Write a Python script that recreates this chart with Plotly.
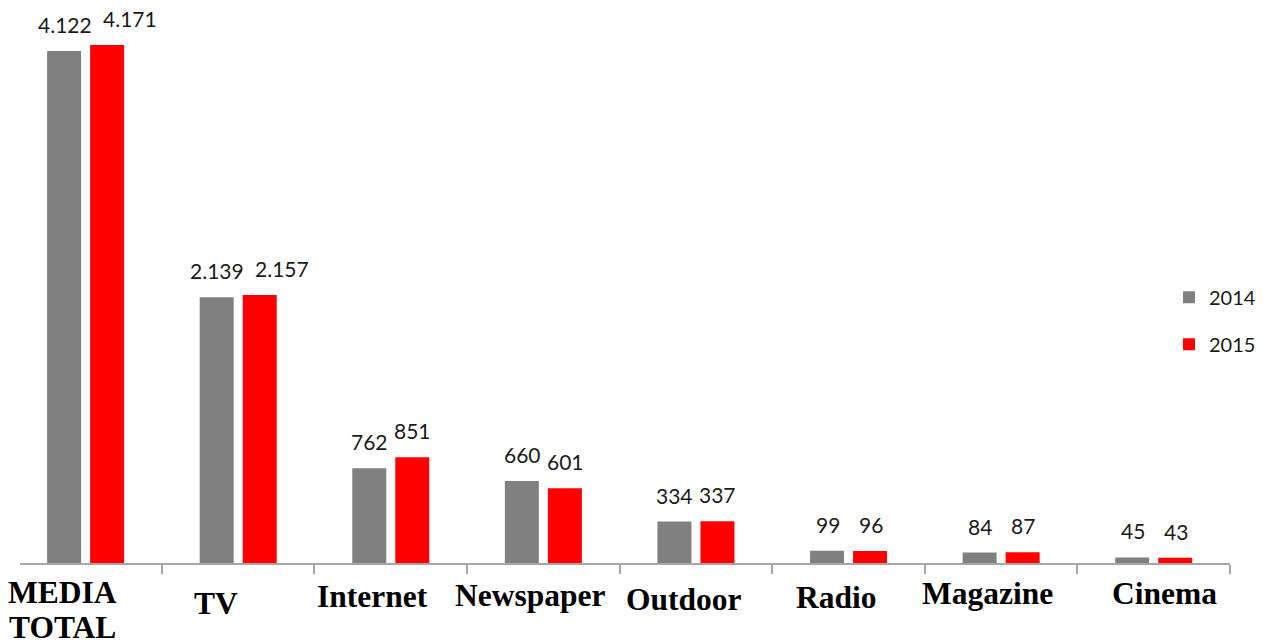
import plotly.graph_objects as go

categories = ["MEDIA<br>TOTAL", "TV", "Internet", "Newspaper", "Outdoor", "Radio", "Magazine", "Cinema"]
series_names = ["2014", "2015"]
values_2014 = [4122, 2139, 762, 660, 334, 99, 84, 45]
values_2015 = [4171, 2157, 851, 601, 337, 96, 87, 43]
labels_2014 = ["4.122", "2.139", "762", "660", "334", "99", "84", "45"]
labels_2015 = ["4.171", "2.157", "851", "601", "337", "96", "87", "43"]

# label placement styling (pixel offsets of the category captions, as in the source image)
caption_dx = [-23, -22, -18, -13, -12, -12, -14, 11]
caption_dy = [47, 40, 33.5, 32, 36, 34, 30, 30]
caption_line_gap = 35

colors = ["#808080", "#FF0000"]

fig = go.Figure()
for name, vals, col in zip(series_names, [values_2014, values_2015], colors):
    fig.add_trace(go.Bar(x=categories, y=vals, name=name, marker_color=col,
                         marker_line_width=0, legendgroup=name))

annotations = []
for k, (vals, labs, shift) in enumerate([(values_2014, labels_2014, -21), (values_2015, labels_2015, 22)]):
    for i, (c, v, t) in enumerate(zip(categories, vals, labs)):
        extra = 0
        if k == 1 and len(labels_2014[i]) >= 5 and len(t) >= 5:
            extra = 22
        annotations.append(dict(x=c, y=v, text=t, showarrow=False, xref="x", yref="y",
                                yanchor="bottom", xshift=shift + extra, yshift=12,
                                font=dict(family="Lato, Open Sans, sans-serif", size=21, color="#1a1a1a")))
for c, dx, dy in zip(categories, caption_dx, caption_dy):
    lines = c.split("<br>")
    n = len(lines)
    for j, line in enumerate(lines):
        off = dy + (j - (n - 1) / 2) * caption_line_gap
        annotations.append(dict(x=c, y=0, text="<b>" + line + "</b>", showarrow=False, xref="x", yref="paper",
                                yanchor="middle", xshift=dx, yshift=-off,
                                font=dict(family="Liberation Serif, Times New Roman, serif", size=31.5, color="#000")))

fig.update_layout(
    width=1266, height=644,
    margin=dict(l=20, r=36, t=5, b=81, autoexpand=False),
    plot_bgcolor="white", paper_bgcolor="white",
    barmode="group", bargap=0.436, bargroupgap=0.21,
    showlegend=True,
    legend=dict(x=0.9496, y=0.434, xanchor="left", yanchor="middle",
                tracegroupgap=18,
                font=dict(family="Lato, Open Sans, sans-serif", size=20, color="#1a1a1a"),
                bgcolor="rgba(0,0,0,0)", itemwidth=30),
    annotations=annotations,
)
fig.update_xaxes(range=[-0.43, 7.5], showline=True, linecolor="#a6a6a6", linewidth=2, ticks="outside",
                 tickson="boundaries", ticklen=9, tickcolor="#a6a6a6", tickwidth=1.5,
                 showticklabels=False, showgrid=False)
fig.update_yaxes(visible=False, range=[0, 4493], showgrid=False)

fig.write_html("out.html", config={"displayModeBar": False},
               post_script="document.body.style.margin='0';")
